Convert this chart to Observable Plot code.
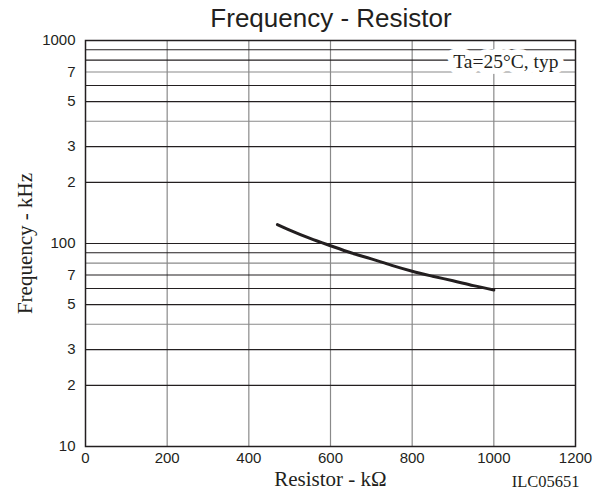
<!DOCTYPE html>
<html>
<head>
<meta charset="utf-8">
<script src="https://cdn.jsdelivr.net/npm/d3@7"></script>
<script src="https://cdn.jsdelivr.net/npm/@observablehq/plot@0.6"></script>
<style>
  html, body { margin: 0; padding: 0; background: #fff; }
  #title { position: relative; z-index: 1; height: 22px; overflow: visible; width: 492px; margin-left: 85px;
           text-align: center; white-space: nowrap;
           font-family: "Liberation Sans", Arial, sans-serif;
           font-size: 26px; line-height: 36px; color: #231f20; }
  #chart svg { display: block; }
</style>
</head>
<body>
<div id="title">Frequency - Resistor</div>
<div id="chart"></div>
<script>
const resistor = [470, 500, 550, 600, 650, 700, 750, 800, 850, 900, 950, 1000];
const frequency = [124, 116.5, 106, 97.5, 90, 84, 78, 73, 69, 65.5, 62, 59];
const xTicks = [0, 200, 400, 600, 800, 1000, 1200];
const yTicks = [1000, 700, 500, 300, 200, 100, 70, 50, 30, 20, 10];
const yTickLabels = ["1000", "7", "5", "3", "2", "100", "7", "5", "3", "2", "10"];
const hGrid = [900, 800, 700, 600, 500, 400, 300, 200, 100, 90, 80, 70, 60, 50, 40, 30, 20];
const hGridGray = [700, 400, 80, 40];
const vGrid = [200, 400, 600, 800, 1000];

const data = resistor.map((r, i) => ({r, f: frequency[i]}));
const yLabelData = yTicks.map((v, i) => ({v, label: yTickLabels[i]}));
const ink = "#231f20";
const sans = "'Liberation Sans', Arial, sans-serif";
const serif = "'Liberation Serif', 'Times New Roman', serif";

const chart = Plot.plot({
  width: 603,
  height: 476,
  marginTop: 18,
  marginBottom: 52,
  marginLeft: 85,
  marginRight: 28,
  style: {background: "transparent", color: ink},
  x: {domain: [0, 1200], axis: null},
  y: {type: "log", domain: [10, 1000], axis: null},
  marks: [
    Plot.ruleX(vGrid, {x: d => d, stroke: "#8a8a8a", strokeWidth: 1.2}),
    Plot.ruleY(hGrid, {y: d => d, stroke: d => hGridGray.includes(d) ? "#8a8a8a" : ink, strokeWidth: 1.1}),
    Plot.frame({stroke: ink, strokeWidth: 1.5}),
    Plot.text(xTicks, {x: d => d, frameAnchor: "bottom", dy: 16, text: d => String(d),
      fontSize: 15, fontFamily: sans, fill: ink}),
    Plot.text(yLabelData, {y: "v", frameAnchor: "left", textAnchor: "end", dx: -10, text: "label",
      fontSize: 15, fontFamily: sans, fill: ink}),
    Plot.line(data, {x: "r", y: "f", curve: "monotone-x", stroke: ink, strokeWidth: 3}),
    Plot.text(["Ta=25°C, typ"], {frameAnchor: "top-right", textAnchor: "end", dx: -17, dy: 14,
      fontFamily: serif, fontSize: 19.5, fill: ink, stroke: "white", strokeWidth: 12}),
    Plot.text(["Resistor - kΩ"], {frameAnchor: "bottom", dy: 39, fontFamily: serif, fontSize: 21, fill: ink}),
    Plot.text(["ILC05651"], {frameAnchor: "bottom-right", textAnchor: "end", dx: 4, dy: 40.5, fontFamily: serif, fontSize: 16.5, fill: ink}),
    Plot.text(["Frequency - kHz"], {frameAnchor: "left", rotate: -90, textAnchor: "middle", dx: -60, fontFamily: serif, fontSize: 21, fill: ink})
  ]
});
document.getElementById("chart").appendChild(chart);
</script>
</body>
</html>
